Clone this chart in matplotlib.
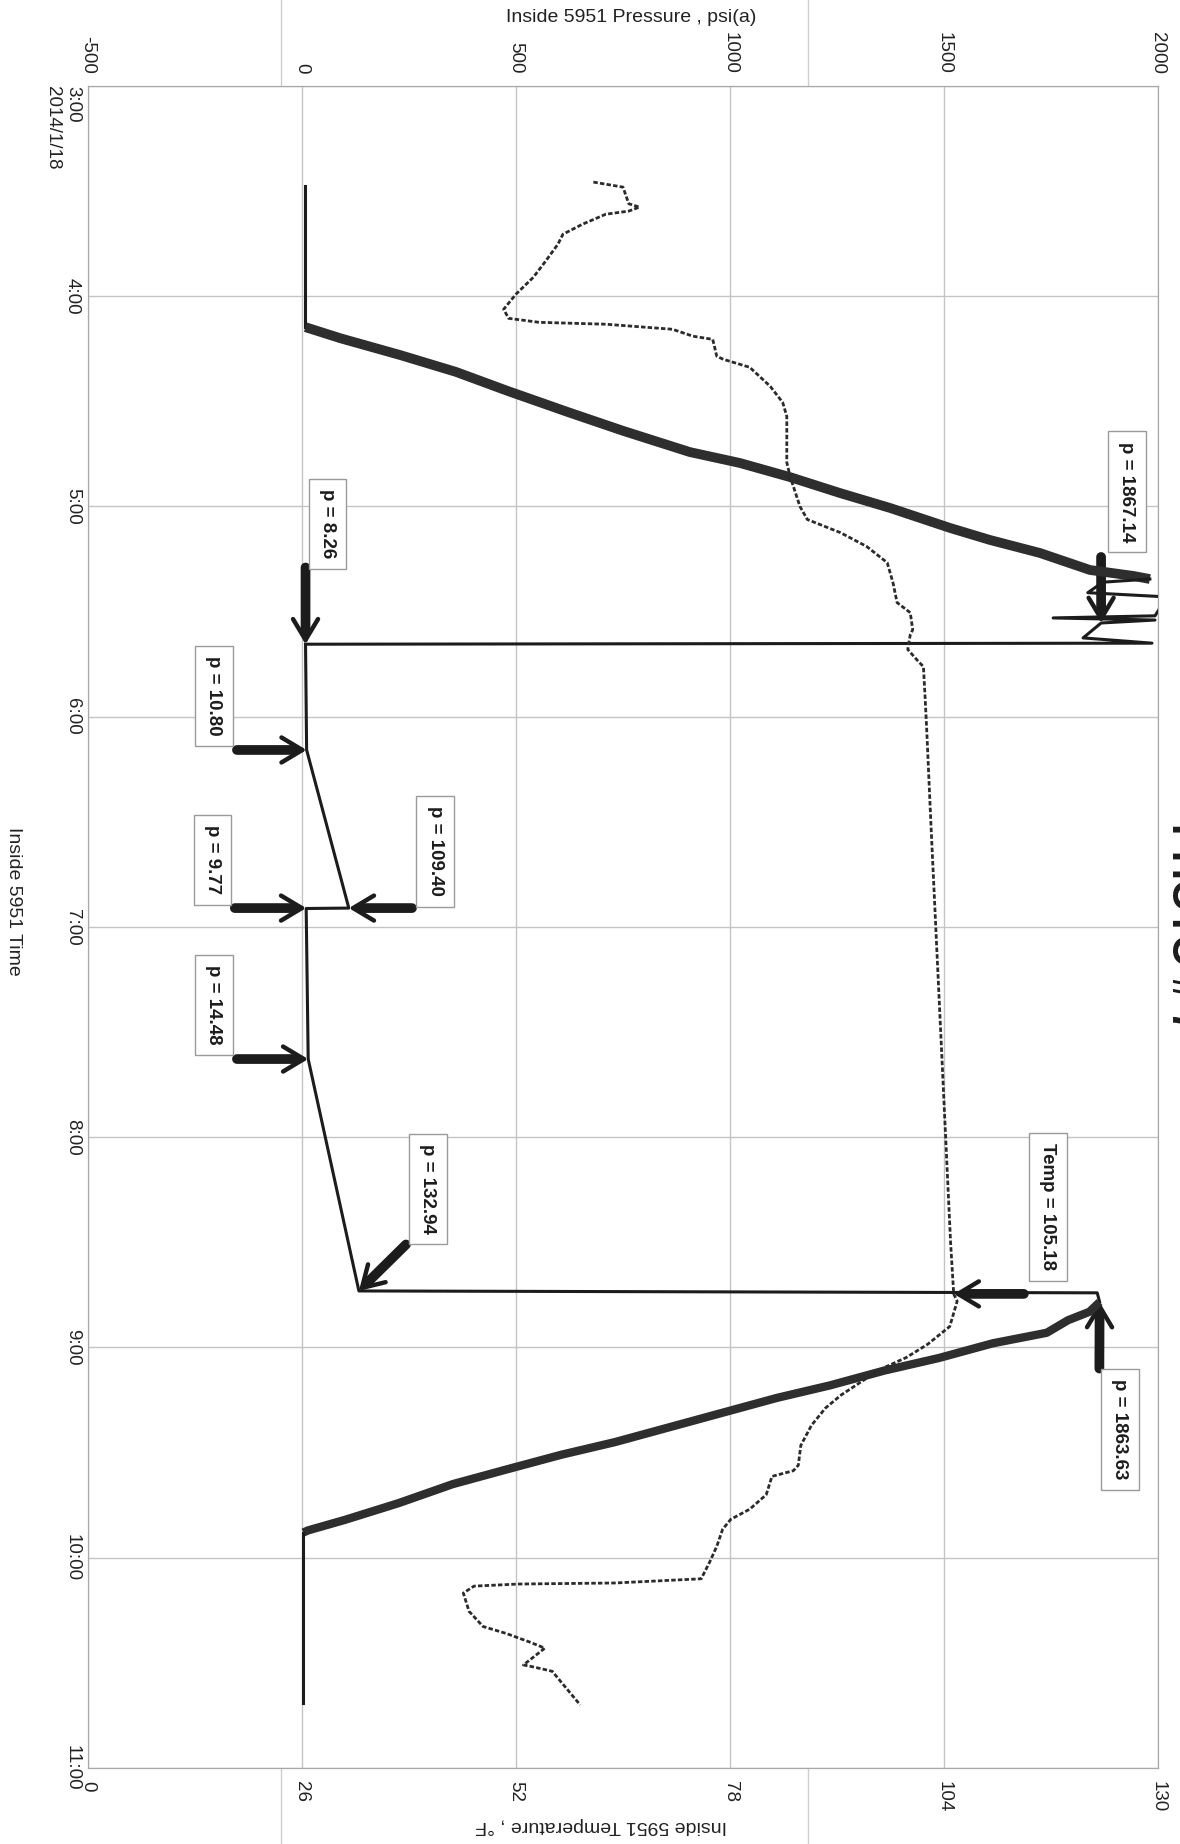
import matplotlib

matplotlib.use("Agg")
import matplotlib.pyplot as plt
from matplotlib.lines import Line2D

plt.rcParams["font.family"] = ["Liberation Sans", "DejaVu Sans"]
plt.rcParams["axes.unicode_minus"] = False

W, H = 1180, 1844
INK = "#1c1c1c"
GRID = "#c4c4c4"

# ---- axes ---------------------------------------------------------------------
HOURS = [3, 4, 5, 6, 7, 8, 9, 10, 11]
HOUR_LABELS = ["3:00\n2014/1/18", "4:00", "5:00", "6:00", "7:00",
               "8:00", "9:00", "10:00", "11:00"]
P_TICKS = [-500, 0, 500, 1000, 1500, 2000]
T_TICKS = [0, 26, 52, 78, 104, 130]

# ---- pressure (time in decimal hours, psi(a)) -------------------------------------
PRE_T = [3.475, 4.147]
PRE_P = [8, 8]

UP_T = [4.147, 4.20, 4.28, 4.36, 4.45, 4.55, 4.64, 4.741, 4.793, 4.860,
        4.936, 5.007, 5.102, 5.159, 5.221, 5.302, 5.330, 5.345]
UP_P = [8, 90, 230, 360, 480, 620, 750, 906, 1023, 1140,
        1257, 1374, 1514, 1607, 1724, 1841, 1942, 1981]

PEAK_T = [5.345, 5.36, 5.41, 5.43, 5.52, 5.53, 5.54, 5.554, 5.625, 5.65, 5.655]
PEAK_P = [1981, 1871, 1836, 2021, 1993, 1755, 1993, 1867.14, 1825, 1986, 8.26]

LOW_T = [5.655, 6.158, 6.91, 6.912, 7.628, 8.731, 8.74, 8.784]
LOW_P = [8.26, 10.80, 109.40, 9.77, 14.48, 132.94, 1858, 1863.63]

DOWN_T = [8.784, 8.83, 8.87, 8.93, 8.98, 9.05, 9.11, 9.18, 9.24, 9.31,
          9.38, 9.45, 9.51, 9.58, 9.65, 9.74, 9.82, 9.87, 9.88]
DOWN_P = [1863.63, 1840, 1790, 1740, 1614, 1488, 1360, 1234, 1109, 983,
          857, 731, 606, 478, 352, 226, 100, 14, 3]

POST_T = [9.88, 10.69]
POST_P = [3, 3]

# ---- temperature (°F) -------------------------------------------------------------
TEMP_T = [3.457, 3.481, 3.56, 3.576, 3.595, 3.61, 3.657, 3.705, 3.752, 3.833,
          3.91, 3.99, 4.062, 4.105, 4.124, 4.133, 4.157, 4.19, 4.205, 4.286,
          4.30, 4.338, 4.429, 4.505, 4.571, 4.79, 4.857, 5.0, 5.062, 5.124,
          5.19, 5.267, 5.362, 5.457, 5.505, 5.586, 5.61, 5.68, 5.729, 5.762,
          5.905, 6.062, 6.5, 7.0, 7.5, 8.0, 8.5, 8.745, 8.78, 8.82,
          8.90, 8.985, 9.048, 9.096, 9.159, 9.226, 9.288, 9.37, 9.466, 9.56,
          9.586, 9.613, 9.70, 9.769, 9.817, 9.865, 9.945, 10.023, 10.10, 10.11,
          10.12, 10.125, 10.135, 10.168, 10.255, 10.327, 10.36, 10.40, 10.43, 10.51,
          10.52, 10.54, 10.70]
TEMP_F = [61.4, 65.0, 65.7, 67.0, 65.7, 62.9, 60.1, 57.7, 57.1, 55.6,
          54.1, 52.0, 50.5, 51.1, 54.8, 62.9, 71.0, 73.5, 75.9, 76.4,
          77.2, 80.4, 82.9, 84.4, 84.9, 84.9, 85.3, 86.5, 87.4, 91.4,
          94.6, 97.1, 97.8, 98.3, 99.9, 100.2, 99.9, 99.6, 100.7, 101.5,
          101.7, 101.9, 102.4, 103.0, 103.6, 104.2, 104.8, 105.18, 105.6, 105.3,
          104.7, 102.0, 99.4, 96.7, 94.1, 91.5, 89.6, 87.9, 86.6, 86.3,
          85.7, 83.1, 82.4, 80.4, 78.1, 77.1, 76.4, 75.5, 74.5, 69.3,
          64.0, 52.3, 46.9, 45.6, 46.3, 48.0, 50.8, 53.6, 55.5, 52.9,
          54.2, 56.4, 59.8]

# ---- callouts: text, marked point (time, value) ------------------------------------
P_NOTES = ["p = 1867.14", "p = 8.26", "p = 10.80", "p = 9.77", "p = 14.48",
           "p = 109.40", "p = 132.94", "p = 1863.63"]
P_NOTE_AT = [(5.554, 1867.14), (5.655, 8.26), (6.158, 10.80), (6.91, 9.77),
             (7.628, 14.48), (6.91, 109.40), (8.731, 132.94), (8.784, 1863.63)]
T_NOTE = "Temp = 105.18"
T_NOTE_AT = (8.745, 105.18)

# layout of the callouts: box centre (time, value) and arrow tail (time, value)
P_BOX = [(4.93, 1927), (5.083, 60), (5.90, -206), (6.68, -209), (7.37, -206),
         (6.64, 311), (8.246, 294), (9.39, 1911)]
P_TAIL = [(5.24, 1867), (5.29, 8.26), (6.158, -152), (6.91, -157), (7.628, -152),
          (6.91, 257), (8.51, 243), (9.10, 1863)]
T_BOX = (8.332, 116.6)
T_TAIL = (8.745, 113.7)


def block_arrow(axis, tail, tip):
    (ty, tx), (py, px) = tail, tip
    axis.annotate("", xy=(px, py), xytext=(tx, ty),
                  arrowprops=dict(arrowstyle="-", lw=7, color=INK,
                                  shrinkA=0, shrinkB=10))
    axis.annotate("", xy=(px, py), xytext=(tx, ty),
                  arrowprops=dict(arrowstyle="->,head_length=1.5,head_width=0.9",
                                  lw=3.2, color=INK, shrinkA=0, shrinkB=0,
                                  mutation_scale=10))


def note_box(axis, text, at):
    t, v = at
    axis.text(v, t, text, rotation=-90, ha="center", va="center",
              fontsize=13.5, fontweight="bold", color=INK, zorder=6,
              bbox=dict(boxstyle="square,pad=0.55", fc="white", ec="#9a9a9a", lw=1))


fig = plt.figure(figsize=(W / 100, H / 100), dpi=100, facecolor="white")

# faint page lines from the scan
for x in (281, 808):
    fig.add_artist(Line2D([x / W, x / W], [0, 1], transform=fig.transFigure,
                          color="#cfcfcf", lw=1, zorder=0))

ax = fig.add_axes([88 / W, 1 - 1768 / H, 1070 / W, 1682 / H])
ax.set_xlim(-500, 2000)
ax.set_ylim(11, 3)
ax_t = ax.twiny()
ax_t.set_xlim(0, 130)

ax.xaxis.tick_top()
ax.xaxis.set_label_position("top")
ax_t.xaxis.tick_bottom()
ax_t.xaxis.set_label_position("bottom")

ax.set_xticks(P_TICKS)
ax.set_yticks(HOURS, HOUR_LABELS)
ax_t.set_xticks(T_TICKS)
ax.tick_params(axis="x", length=0, pad=9, labelsize=13.5, labelrotation=-90,
               labelcolor="#222222")
ax.tick_params(axis="y", length=0, pad=5, labelsize=13.5, labelrotation=-90,
               labelcolor="#222222")
ax_t.tick_params(axis="x", length=0, pad=9, labelsize=13.5, labelrotation=-90,
                 labelcolor="#222222")
for tick in ax.yaxis.get_major_ticks():
    tick.label1.set_va("center")
first = ax.yaxis.get_major_ticks()[0].label1
first.set_va("top")
first.set_multialignment("left")

ax.grid(True, color=GRID, lw=1)
ax.set_axisbelow(True)
for axis in (ax, ax_t):
    for s in axis.spines.values():
        s.set_color("#a8a8a8")

ax.set_xlabel("Inside 5951 Pressure , psi(a)", fontsize=14, va="center", color="#222222")
ax.xaxis.set_label_coords(0.5075, 1.041)
ax.set_ylabel("Inside 5951 Time", fontsize=14, rotation=-90, va="center", color="#222222")
ax.yaxis.set_label_coords(-0.070, 0.515)
ax_t.set_xlabel("Inside 5951 Temperature , °F", fontsize=14, rotation=180,
                va="center", color="#222222")
ax_t.xaxis.set_label_coords(0.48, -0.034)

# temperature
ax_t.plot(TEMP_F, TEMP_T, color="#2b2b2b", lw=2, ls=(0, (1.6, 0.8)), zorder=3)

# pressure: the fill ramps are drawn as a heavy band, the rest as a plain trace
ax.plot(PRE_P, PRE_T, color=INK, lw=2.2, zorder=4)
ax.plot(UP_P, UP_T, color="#2e2e2e", lw=7, solid_capstyle="butt", zorder=4)
ax.plot(PEAK_P, PEAK_T, color=INK, lw=2.2, zorder=4)
ax.plot(LOW_P, LOW_T, color=INK, lw=2.2, zorder=4)
ax.plot(DOWN_P, DOWN_T, color="#2e2e2e", lw=6, solid_capstyle="butt", zorder=4)
ax.plot(POST_P, POST_T, color=INK, lw=2.2, zorder=4)

# callouts
for text, at, box, tail in zip(P_NOTES, P_NOTE_AT, P_BOX, P_TAIL):
    note_box(ax, text, box)
    block_arrow(ax, tail, at)
note_box(ax_t, T_NOTE, T_BOX)
block_arrow(ax_t, T_TAIL, T_NOTE_AT)

# title, cut by the right edge of the scan
fig.text(1172 / W, 1 - 823 / H, "PHOTO # 7", rotation=-90, rotation_mode="anchor",
         ha="left", va="baseline", fontsize=29, fontweight="bold", color=INK)

fig.savefig("out.png", dpi=100, facecolor="white")
